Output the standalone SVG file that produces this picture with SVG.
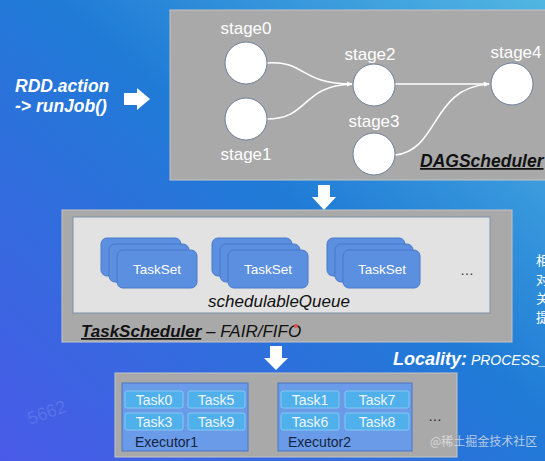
<svg xmlns="http://www.w3.org/2000/svg" width="545" height="461" viewBox="0 0 545 461">
<defs>
<linearGradient id="bg" x1="1" y1="0" x2="0" y2="1">
<stop offset="0" stop-color="#52b6e2"/>
<stop offset="0.45" stop-color="#1f7bd6"/>
<stop offset="1" stop-color="#4a5ae8"/>
</linearGradient>
<marker id="ah" viewBox="0 0 10 10" refX="9" refY="5" markerWidth="6" markerHeight="6" orient="auto" markerUnits="userSpaceOnUse">
<path d="M0,1 L10,5 L0,9 z" fill="#ffffff"/>
</marker>
</defs>
<style>
.panel{fill:#a9a9a9;stroke:#c4c4c4;stroke-width:1}
.stage{fill:#ffffff;stroke:#6f7f99;stroke-width:1}
.slabel{font-family:"Liberation Sans",Arial,sans-serif;font-size:17px;fill:#ffffff;text-anchor:middle}
.edge{fill:none;stroke:#ffffff;stroke-width:1.6;marker-end:url(#ah)}
.ts{fill:#5b8fe0;stroke:#4a78c8;stroke-width:1}
.tstext{font-family:"Liberation Sans",Arial,sans-serif;font-size:13.5px;fill:#ffffff;text-anchor:middle}
.exec{fill:#6a9be8;stroke:#4b77c4;stroke-width:1}
.task{fill:#4fb0ec;stroke:#86c8f0;stroke-width:1}
.tasktext{font-family:"Liberation Sans",Arial,sans-serif;font-size:14px;fill:#eef6ff;text-anchor:middle}
.exectext{font-family:"Liberation Sans",Arial,sans-serif;font-size:14px;fill:#14233f}
.bi{font-family:"Liberation Sans",Arial,sans-serif;font-weight:bold;font-style:italic}
.it{font-family:"Liberation Sans",Arial,sans-serif;font-style:italic}
.warrow{fill:#ffffff}
.cjk{font-family:"Noto Sans CJK SC",sans-serif;font-size:13px;fill:#ffffff}
</style>
<rect x="0" y="0" width="545" height="461" fill="url(#bg)"/>
<text x="30" y="425" transform="rotate(-20 30 425)" font-family="Liberation Sans,Arial,sans-serif" font-size="18" fill="#ffffff" fill-opacity="0.12">5662</text>

<g id="left-label">
<text class="bi" x="15" y="92" font-size="17.5" fill="#ffffff">RDD.action</text>
<text class="bi" x="15" y="112" font-size="17.5" fill="#ffffff">-&gt; runJob()</text>
</g>
<path class="warrow" d="M124,93 L137,93 L137,88 L150,99 L137,110 L137,105 L124,105 z"/>

<g id="dag">
<rect class="panel" x="170" y="10" width="380" height="170"/>
<text class="bi" x="420" y="167" font-size="17.5" fill="#111111" text-decoration="underline">DAGScheduler</text>
</g>
<g id="connectors">
<path class="edge" d="M267,63 C305,60 300,84 352,84"/>
<path class="edge" d="M267,119 C310,119 300,86 352,84"/>
<path class="edge" d="M395,84 L489,84"/>
<path class="edge" d="M395,155 C440,150 430,88 489,84"/>
</g>
<g id="stage0"><circle class="stage" cx="246" cy="63" r="21"/><text class="slabel" x="246" y="34">stage0</text></g>
<g id="stage1"><circle class="stage" cx="246" cy="119" r="21"/><text class="slabel" x="246" y="160">stage1</text></g>
<g id="stage2"><circle class="stage" cx="374" cy="85" r="21"/><text class="slabel" x="370" y="60">stage2</text></g>
<g id="stage3"><circle class="stage" cx="374" cy="154" r="21"/><text class="slabel" x="374" y="127">stage3</text></g>
<g id="stage4"><circle class="stage" cx="512" cy="84" r="21"/><text class="slabel" x="516" y="58">stage4</text></g>

<path class="warrow" d="M318,185 L330,185 L330,197 L336,197 L324,210 L312,197 L318,197 z"/>

<g id="taskscheduler">
<rect class="panel" x="62" y="210" width="450" height="132"/>
<rect x="73" y="217" width="417" height="96" fill="#e2e2e2" stroke="#8090aa" stroke-width="1"/>
<text class="it" x="279" y="307" font-size="17" fill="#111111" text-anchor="middle">schedulableQueue</text>
<text x="81" y="337" font-size="17" fill="#111111"><tspan class="bi" text-decoration="underline">TaskScheduler</tspan><tspan class="it"> – FAIR/FIFO</tspan></text>
<circle cx="296" cy="326" r="2" fill="#e84a4a"/>
<text x="460" y="275" font-family="Liberation Sans,Arial,sans-serif" font-size="14" fill="#333333">…</text>
</g>
<g id="taskset1">
<rect class="ts" x="101" y="238" width="80" height="38" rx="6"/>
<rect class="ts" x="109" y="244" width="80" height="38" rx="6"/>
<rect class="ts" x="117" y="250" width="80" height="38" rx="6"/>
<text class="tstext" x="157" y="274">TaskSet</text>
</g>
<g id="taskset2">
<rect class="ts" x="212" y="238" width="80" height="38" rx="6"/>
<rect class="ts" x="220" y="244" width="80" height="38" rx="6"/>
<rect class="ts" x="228" y="250" width="80" height="38" rx="6"/>
<text class="tstext" x="268" y="274">TaskSet</text>
</g>
<g id="taskset3">
<rect class="ts" x="327" y="238" width="78" height="38" rx="6"/>
<rect class="ts" x="335" y="244" width="78" height="38" rx="6"/>
<rect class="ts" x="343" y="250" width="77" height="38" rx="6"/>
<text class="tstext" x="382" y="274">TaskSet</text>
</g>

<g id="side-text">
<text class="cjk" x="536" y="265">相</text>
<text class="cjk" x="536" y="284">对</text>
<text class="cjk" x="536" y="303">关</text>
<text class="cjk" x="536" y="322">提</text>
</g>

<path class="warrow" d="M270,346 L282,346 L282,358 L288,358 L276,370 L264,358 L270,358 z"/>

<g id="locality">
<text x="393" y="365" fill="#ffffff"><tspan class="bi" font-size="18">Locality:</tspan><tspan class="it" font-size="14"> PROCESS_</tspan></text>
</g>

<g id="executors">
<rect class="panel" x="115" y="373" width="342" height="84"/>
<text x="428" y="421" font-family="Liberation Sans,Arial,sans-serif" font-size="14" fill="#222222">…</text>
</g>
<g id="executor1">
<rect class="exec" x="122" y="383" width="126" height="68"/>
<rect class="task" x="125" y="391" width="58" height="17" rx="2"/>
<rect class="task" x="188" y="391" width="57" height="17" rx="2"/>
<rect class="task" x="125" y="413" width="58" height="17" rx="2"/>
<rect class="task" x="188" y="413" width="57" height="17" rx="2"/>
<text class="tasktext" x="154" y="405">Task0</text>
<text class="tasktext" x="216" y="405">Task5</text>
<text class="tasktext" x="154" y="427">Task3</text>
<text class="tasktext" x="216" y="427">Task9</text>
<text class="exectext" x="135" y="447">Executor1</text>
</g>
<g id="executor2">
<rect class="exec" x="278" y="383" width="134" height="68"/>
<rect class="task" x="281" y="391" width="58" height="17" rx="2"/>
<rect class="task" x="345" y="391" width="64" height="17" rx="2"/>
<rect class="task" x="281" y="413" width="58" height="17" rx="2"/>
<rect class="task" x="345" y="413" width="64" height="17" rx="2"/>
<text class="tasktext" x="310" y="405">Task1</text>
<text class="tasktext" x="377" y="405">Task7</text>
<text class="tasktext" x="310" y="427">Task6</text>
<text class="tasktext" x="377" y="427">Task8</text>
<text class="exectext" x="288" y="447">Executor2</text>
</g>
<text x="430" y="446" font-family="Noto Sans CJK SC,sans-serif" font-size="12" fill="#e8e8e8" fill-opacity="0.75">@稀土掘金技术社区</text>
</svg>
